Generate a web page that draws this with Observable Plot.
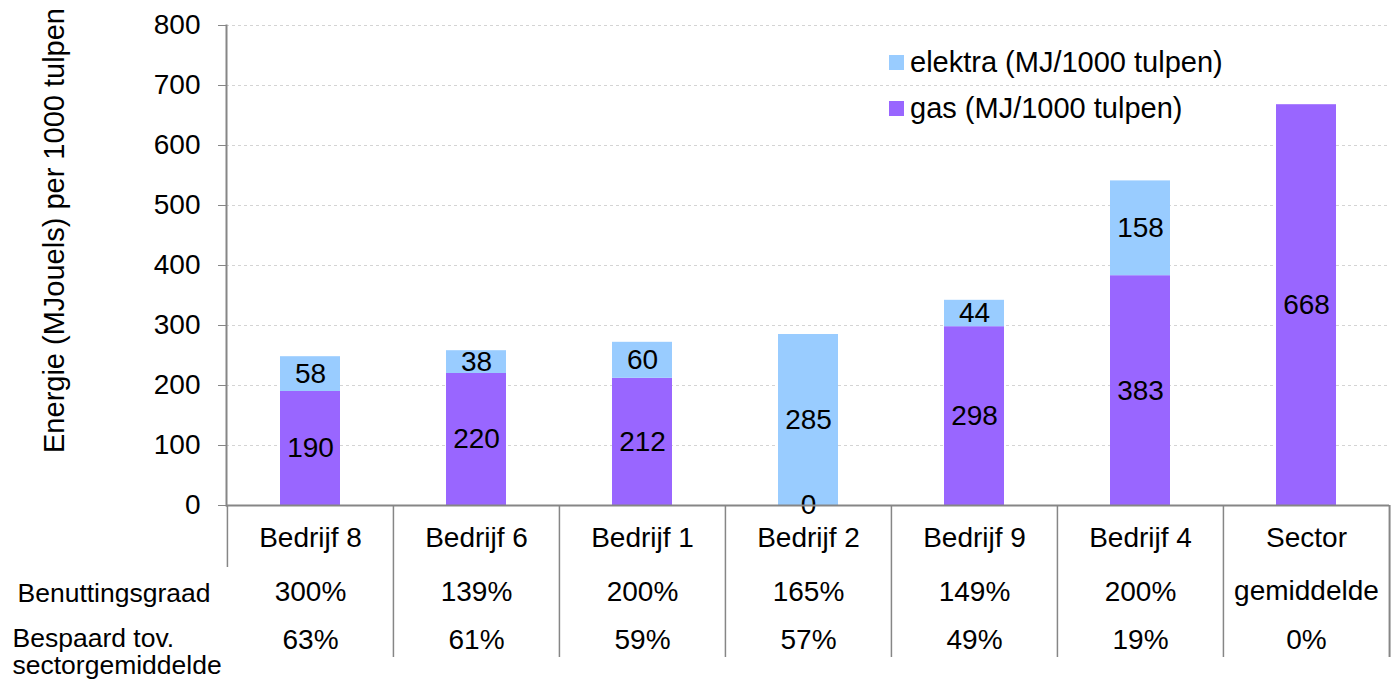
<!DOCTYPE html>
<html><head><meta charset="utf-8">
<script src="https://cdn.jsdelivr.net/npm/d3@7"></script>
<script src="https://cdn.jsdelivr.net/npm/@observablehq/plot@0.6"></script>
<style>
body{margin:0;background:#fff;font-family:"Liberation Sans",Arial,sans-serif;}
#wrap{position:relative;width:1393px;height:681px;}
#legend{position:absolute;left:889px;top:39px;font-size:29px;color:#000;}
.item{display:flex;align-items:center;height:46px;white-space:nowrap;}
.sw{width:15px;height:15px;margin-right:6px;}
</style></head><body><div id="wrap"></div>
<script>
const categories = ["Bedrijf 8","Bedrijf 6","Bedrijf 1","Bedrijf 2","Bedrijf 9","Bedrijf 4","Sector gemiddelde"];
const categoryLabels = ["Bedrijf 8","Bedrijf 6","Bedrijf 1","Bedrijf 2","Bedrijf 9","Bedrijf 4","Sector\ngemiddelde"];
const gas = [190,220,212,0,298,383,668];
const elektra = [58,38,60,285,44,158,null];
const benutting = ["300%","139%","200%","165%","149%","200%",""];
const bespaard = ["63%","61%","59%","57%","49%","19%","0%"];
const yTicks = [0,100,200,300,400,500,600,700,800];
const seriesNames = ["gas (MJ/1000 tulpen)","elektra (MJ/1000 tulpen)"];
const seriesColors = ["#9966FF","#99CCFF"];
const rowLabels = ["Benuttingsgraad","Bespaard tov.\nsectorgemiddelde"];
const yLabel = "Energie (MJouels) per 1000 tulpen";

const W = 1393, H = 681, ML = 226, MR = 4, MT = 25, MB = 176;
const half = (W - ML - MR) / categories.length / 2;
const grey = "#868686";
const FS = 28;

const rows = [];
categories.forEach((c, i) => {
  rows.push({cat: c, series: seriesNames[0], value: gas[i]});
  if (elektra[i] != null) rows.push({cat: c, series: seriesNames[1], value: elektra[i]});
});
const table = categories.map((c, i) => ({cat: c, label: categoryLabels[i], ben: benutting[i], besp: bespaard[i]}));

const chart = Plot.plot({
  width: W, height: H,
  marginLeft: ML, marginRight: MR, marginTop: MT, marginBottom: MB,
  style: {fontFamily: '"Liberation Sans", Arial, sans-serif', fontSize: FS + "px", background: "white", color: "black"},
  x: {domain: categories, paddingInner: 0.64, paddingOuter: 0.32, axis: null},
  y: {domain: [0, 800], axis: null},
  color: {domain: seriesNames, range: seriesColors},
  marks: [
    Plot.gridY(yTicks.slice(1), {stroke: "#d4d4d4", strokeOpacity: 1, strokeDasharray: "3,3"}),
    Plot.barY(rows, {x: "cat", y: "value", fill: "series"}),
    Plot.text(rows, Plot.stackY({x: "cat", y: "value", text: d => String(d.value), fontSize: FS, fill: "black"})),
    Plot.ruleY([0], {stroke: grey, strokeWidth: 2}),
    Plot.frame({anchor: "left", stroke: grey, strokeWidth: 2}),
    Plot.axisY(yTicks, {tickSize: 8, tickPadding: 18, stroke: grey, fill: "black", fontSize: FS, label: null}),
    Plot.text(table, {x: "cat", text: "label", frameAnchor: "bottom", dy: 5, lineAnchor: "top", lineHeight: 1.86, fontSize: FS, fill: "black"}),
    Plot.text(table, {x: "cat", text: "ben", frameAnchor: "bottom", dy: 87, lineAnchor: "middle", fontSize: FS, fill: "black"}),
    Plot.text(table, {x: "cat", text: "besp", frameAnchor: "bottom", dy: 135, lineAnchor: "middle", fontSize: FS, fill: "black"}),
    Plot.ruleX(table.slice(1), {x: "cat", dx: -half, insetTop: H - MB - MT, insetBottom: -152, stroke: grey, strokeWidth: 1.5}),
    Plot.ruleX(table.slice(-1), {x: "cat", dx: half, insetTop: H - MB - MT, insetBottom: -152, stroke: grey, strokeWidth: 2}),
    Plot.ruleX(table.slice(0, 1), {x: "cat", dx: -half, insetTop: H - MB - MT, insetBottom: -62, stroke: grey, strokeWidth: 1.5}),
    Plot.text([rowLabels[0]], {text: d => d, frameAnchor: "bottom-left", textAnchor: "start", dx: 17 - ML, dy: 88, lineAnchor: "middle", fontSize: 26.5, fill: "black"}),
    Plot.text([rowLabels[1]], {text: d => d, frameAnchor: "bottom-left", textAnchor: "start", dx: 12 - ML, dy: 146, lineAnchor: "middle", lineHeight: 1.05, fontSize: 26.5, fill: "black"}),
    Plot.text([yLabel], {text: d => d, frameAnchor: "left", textAnchor: "middle", rotate: -90, dx: 54 - ML, dy: 230 - (MT + (H - MB - MT) / 2), lineAnchor: "middle", fontSize: 29, fill: "black"})
  ]
});

const wrap = document.getElementById("wrap");
wrap.appendChild(chart);
const legend = document.createElement("div");
legend.id = "legend";
[1, 0].forEach(i => {
  const it = document.createElement("div");
  it.className = "item";
  const sw = document.createElement("span");
  sw.className = "sw";
  sw.style.background = seriesColors[i];
  const tx = document.createElement("span");
  tx.textContent = seriesNames[i];
  it.appendChild(sw); it.appendChild(tx);
  legend.appendChild(it);
});
wrap.appendChild(legend);
</script>
</body></html>
